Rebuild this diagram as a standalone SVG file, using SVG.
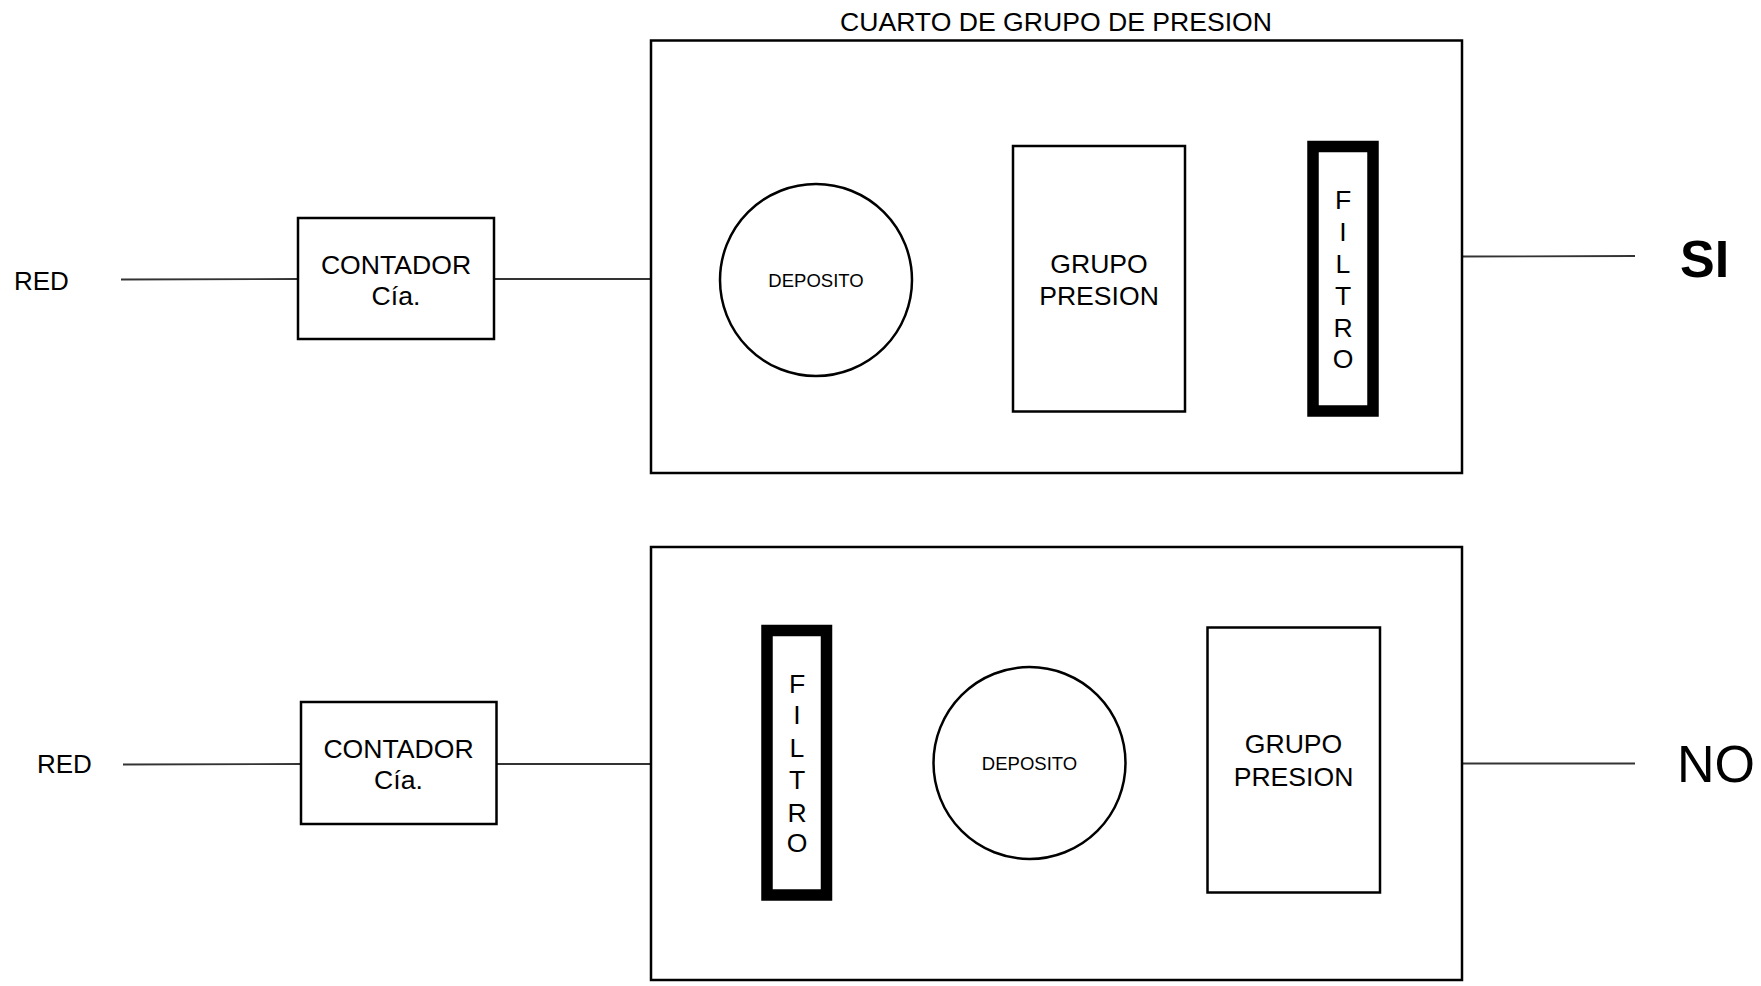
<svg xmlns="http://www.w3.org/2000/svg" width="1761" height="986" viewBox="0 0 1761 986">
<style>
text{font-family:"Liberation Sans",Arial,sans-serif;fill:#000}
.box{fill:#fff;stroke:#000;stroke-width:2.5}
.filt{fill:#fff;stroke:#000;stroke-width:11.5}
.ln{stroke:#333;stroke-width:1.8;fill:none}
.lbl{font-size:26.6px;text-anchor:middle}
.dep{font-size:18.5px;text-anchor:middle}
.red{font-size:26px}
</style>
<rect width="1761" height="986" fill="#fff"/>
<g id="connectors">
<line class="ln" x1="121" y1="279.5" x2="298" y2="279"/>
<line class="ln" x1="494" y1="279" x2="651" y2="279"/>
<line class="ln" x1="1462" y1="256.5" x2="1635" y2="256"/>
<line class="ln" x1="123" y1="764.5" x2="301" y2="764"/>
<line class="ln" x1="496" y1="764" x2="651" y2="764"/>
<line class="ln" x1="1462" y1="763.5" x2="1635" y2="763.5"/>
</g>
<g id="room-top">
<rect class="box" x="651" y="40.5" width="811" height="432.5"/>
<text class="lbl" x="1056" y="31">CUARTO DE GRUPO DE PRESION</text>
</g>
<g id="red-top"><text class="red" x="14" y="290">RED</text></g>
<g id="contador-top">
<rect class="box" x="298" y="218" width="196" height="121"/>
<text class="lbl" x="396" y="274">CONTADOR</text>
<text class="lbl" x="396" y="305">Cía.</text>
</g>
<g id="deposito-top">
<circle class="box" cx="816" cy="280" r="96"/>
<text class="dep" x="816" y="287">DEPOSITO</text>
</g>
<g id="grupo-top">
<rect class="box" x="1013" y="146" width="172" height="265.5"/>
<text class="lbl" x="1099" y="273">GRUPO</text>
<text class="lbl" x="1099" y="305">PRESION</text>
</g>
<g id="filtro-top">
<rect class="filt" x="1313" y="146.5" width="60" height="264.5"/>
<text class="lbl" x="1343" y="209">F</text>
<text class="lbl" x="1343" y="240.5">I</text>
<text class="lbl" x="1343" y="272.5">L</text>
<text class="lbl" x="1343" y="305">T</text>
<text class="lbl" x="1343" y="337">R</text>
<text class="lbl" x="1343" y="367.5">O</text>
</g>
<g id="si"><text x="1680" y="277" style="font-size:52px;font-weight:bold">SI</text></g>
<g id="room-bottom">
<rect class="box" x="651" y="547" width="811" height="433"/>
</g>
<g id="red-bottom"><text class="red" x="37" y="773">RED</text></g>
<g id="contador-bottom">
<rect class="box" x="301" y="702" width="195.5" height="122"/>
<text class="lbl" x="398.5" y="758">CONTADOR</text>
<text class="lbl" x="398.5" y="789">Cía.</text>
</g>
<g id="filtro-bottom">
<rect class="filt" x="767" y="630.5" width="59.5" height="264.5"/>
<text class="lbl" x="797" y="692.5">F</text>
<text class="lbl" x="797" y="724">I</text>
<text class="lbl" x="797" y="756.5">L</text>
<text class="lbl" x="797" y="789">T</text>
<text class="lbl" x="797" y="821.5">R</text>
<text class="lbl" x="797" y="852">O</text>
</g>
<g id="deposito-bottom">
<circle class="box" cx="1029.5" cy="763" r="96"/>
<text class="dep" x="1029.5" y="770">DEPOSITO</text>
</g>
<g id="grupo-bottom">
<rect class="box" x="1207.5" y="627.5" width="172.5" height="265"/>
<text class="lbl" x="1293.5" y="753">GRUPO</text>
<text class="lbl" x="1293.5" y="785.5">PRESION</text>
</g>
<g id="no"><text x="1677" y="782" style="font-size:52px">NO</text></g>
</svg>
